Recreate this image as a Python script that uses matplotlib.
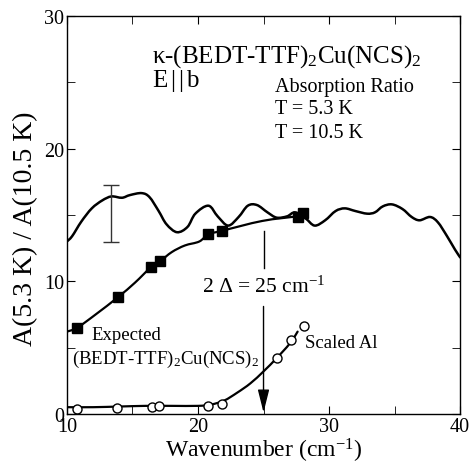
import matplotlib.pyplot as plt
import numpy as np
from matplotlib.path import Path
from matplotlib.patches import PathPatch

plt.rcParams['font.family'] = ['Liberation Serif', 'DejaVu Serif']
plt.rcParams['mathtext.fontset'] = 'custom'
plt.rcParams['mathtext.rm'] = 'Liberation Serif'
plt.rcParams['mathtext.it'] = 'Liberation Serif:italic'
plt.rcParams['mathtext.default'] = 'regular'

# absorption ratio A(5.3 K)/A(10.5 K)
ratio_x = [10.0, 10.4, 11.1, 11.9, 12.7, 13.4, 14.2, 14.8, 15.7, 16.3, 17.0, 17.6,
           18.4, 19.2, 19.8, 20.8, 21.5, 22.3, 23.1, 23.8, 24.5, 25.3, 26.0, 26.8,
           27.4, 28.2, 28.9, 29.7, 30.5, 31.2, 32.0, 32.9, 33.5, 34.1, 34.8, 35.6,
           36.3, 36.9, 37.7, 38.3, 39.0, 39.6, 40.0]
ratio_y = [13.0, 13.4, 14.5, 15.5, 16.1, 16.4, 16.3, 16.5, 16.65, 16.35, 15.3, 14.3,
           13.7, 14.1, 15.1, 15.7, 14.9, 14.2, 14.85, 15.7, 15.75, 15.2, 14.8, 14.9,
           15.2, 14.75, 14.2, 14.6, 15.3, 15.5, 15.3, 15.1, 15.2, 15.65, 15.8, 15.45,
           14.85, 14.6, 14.85, 14.45, 13.4, 12.4, 11.8]

# expected (BEDT-TTF)2Cu(NCS)2
exp_x = [10.8, 13.9, 16.4, 17.1, 20.8, 21.8, 27.6, 28.0]
exp_y = [6.5, 8.8, 11.05, 11.5, 13.55, 13.8, 14.85, 15.15]
exp_line_x = [10.0, 10.8, 12.2, 13.9, 15.2, 16.4, 17.1, 18.0, 19.0, 20.1, 20.8, 21.8, 24.9, 27.6]
exp_line_y = [6.2, 6.5, 7.5, 8.8, 9.9, 11.05, 11.5, 12.2, 12.7, 13.0, 13.55, 13.8, 14.55, 14.9]

# scaled Al
al_x = [10.8, 13.8, 16.5, 17.0, 20.8, 21.8, 26.0, 27.1, 28.1]
al_y = [0.38, 0.45, 0.52, 0.6, 0.6, 0.75, 4.2, 5.6, 6.6]
al_line_x = [10, 12, 14, 16, 18, 20, 21, 22, 23, 24, 25, 26, 27, 27.6]
al_line_y = [0.5, 0.5, 0.55, 0.6, 0.6, 0.6, 0.7, 1.0, 1.6, 2.3, 3.2, 4.2, 5.3, 6.2]

gap = 25  # 2 Delta, cm^-1


def smooth_path(xs, ys):
    """Bezier path through the given points (Catmull-Rom style handles)."""
    p = np.column_stack([xs, ys]).astype(float)
    verts = [p[0]]
    codes = [Path.MOVETO]
    n = len(p)
    for i in range(n - 1):
        p0 = p[max(i - 1, 0)]
        p3 = p[min(i + 2, n - 1)]
        c1 = p[i] + (p[i + 1] - p0) / 6
        c2 = p[i + 1] - (p3 - p[i]) / 6
        verts += [c1, c2, p[i + 1]]
        codes += [Path.CURVE4] * 3
    return Path(verts, codes)


def draw_curve(ax, xs, ys, lw):
    ax.add_patch(PathPatch(smooth_path(xs, ys), fc='none', ec='black', lw=lw,
                           capstyle='round', joinstyle='round'))


fig = plt.figure(figsize=(4.71, 4.64), dpi=100)
ax = fig.add_axes([0.142, 0.106, 0.835, 0.857])

draw_curve(ax, ratio_x, ratio_y, 1.8)
ax.errorbar([13.4], [15.15], yerr=[[2.15], [2.15]], color='#333333', lw=1, capsize=6)

draw_curve(ax, exp_line_x, exp_line_y, 1.6)
ax.plot(exp_x, exp_y, 's', color='black', ms=7)

draw_curve(ax, al_line_x, al_line_y, 1.6)
ax.plot(al_x, al_y, 'o', mfc='white', mec='black', ms=6.5, mew=1)

# gap marker
ax.plot([gap, gap], [11.0, 13.8], color='black', lw=1)
ax.annotate('', xy=(gap, 0.1), xytext=(gap, 8.1),
            arrowprops=dict(arrowstyle='-|>,head_width=0.35,head_length=1.4',
                            color='black', lw=1, shrinkA=0, shrinkB=0))
ax.text(gap, 9.6, r'2 $\Delta$ = 25 cm$^{-1}$', ha='center', va='center', fontsize=15.5)

ax.text(16.5, 27.0, r'κ-(BEDT-TTF)$_2$Cu(NCS)$_2$', fontsize=18, va='center')
ax.text(16.5, 25.15, r'E$\,$|$\,$|$\,$b', fontsize=18, va='center')
ax.text(25.9, 24.7, 'Absorption Ratio', fontsize=14.5, va='center')
ax.text(25.9, 23.0, 'T = 5.3 K', fontsize=14.5, va='center')
ax.text(25.9, 21.25, 'T = 10.5 K', fontsize=14.5, va='center')

ax.text(11.9, 6.0, 'Expected', fontsize=13.5, va='center')
ax.text(10.4, 4.15, r'(BEDT-TTF)$_2$Cu(NCS)$_2$', fontsize=13.5, va='center')
ax.text(28.2, 5.4, 'Scaled Al', fontsize=13.5, va='center')

ax.set_xlim(10, 40)
ax.set_ylim(0, 30)
ax.set_xticks([10, 20, 30, 40])
ax.set_yticks([0, 10, 20, 30])
ax.set_xticks([15, 25, 35], minor=True)
ax.set_yticks([5, 15, 25], minor=True)
ax.tick_params(which='both', direction='in', top=True, right=True, labelsize=14.5,
               length=6, pad=2)
for s in ax.spines.values():
    s.set_linewidth(1)

ax.set_xlabel(r'Wavenumber (cm$^{-1}$)', fontsize=17, labelpad=0)
ax.set_ylabel('A(5.3 K) / A(10.5 K)', fontsize=20)
ax.yaxis.set_label_coords(-0.074, 0.467)

fig.savefig('out.png', dpi=100)
